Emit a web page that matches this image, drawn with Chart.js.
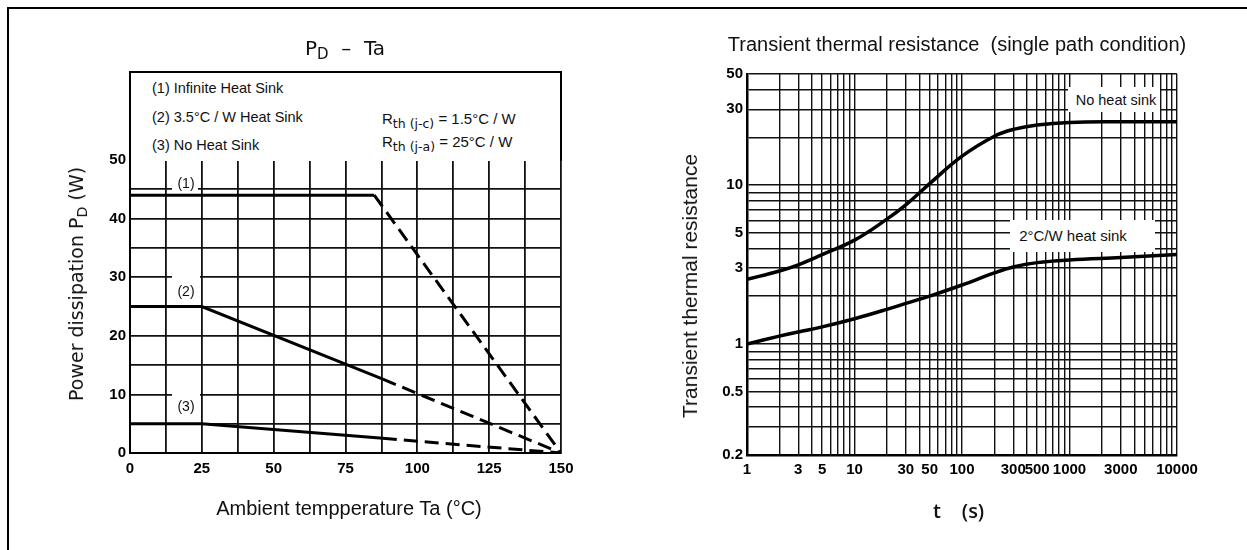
<!DOCTYPE html>
<html>
<head>
<meta charset="utf-8">
<script src="https://cdn.jsdelivr.net/npm/chart.js@4.4.0/dist/chart.umd.min.js"></script>
<style>
  html, body { margin: 0; padding: 0; background: #fff; }
  body { width: 1247px; height: 550px; position: relative; overflow: hidden;
         font-family: "Liberation Sans", Arial, sans-serif; color: #111; }
  .abs { position: absolute; }
  .c { transform: translate(-50%, -50%); white-space: nowrap; }
  .rot { transform: translate(-50%, -50%) rotate(-90deg); white-space: nowrap; }
  #frame { left: 7px; top: 7px; width: 1240px; height: 543px;
           border-left: 2px solid #000; border-top: 2px solid #000; box-sizing: border-box; }
  #leftWrap { left: 0; top: 0; width: 620px; height: 550px; }
  #rightWrap { left: 620px; top: 0; width: 627px; height: 550px; }
  #legendBox { left: 129px; top: 71px; width: 433px; height: 90px; box-sizing: border-box;
               border: 2px solid #000; border-bottom: none; background: #fff; }
  .leg { font-size: 14.5px; line-height: 18px; white-space: nowrap; }
  .rth { font-size: 15px; line-height: 18px; white-space: nowrap; }
  .rth .sub { font-family: "DejaVu Sans", sans-serif; font-size: 12.5px; position: relative; top: 4px; }
  .mask { background: #fff; }
  .curveTag { font-size: 14px; }
  .sub2 { font-size: 0.75em; position: relative; top: 0.25em; }
</style>
</head>
<body>
<div id="frame" class="abs"></div>

<div id="leftWrap" class="abs"><canvas id="pdChart"></canvas></div>
<div id="rightWrap" class="abs"><canvas id="rthChart"></canvas></div>

<!-- left chart texts -->
<div class="abs c" style="left:345px; top:48px; font-family:'DejaVu Sans',sans-serif; font-size:20px;">P<span class="sub2">D</span>&nbsp; –&nbsp; Ta</div>
<div id="legendBox" class="abs">
  <div class="abs leg" style="left:21px; top:6px;">(1) Infinite Heat Sink</div>
  <div class="abs leg" style="left:21px; top:35px;">(2) 3.5°C / W Heat Sink</div>
  <div class="abs leg" style="left:21px; top:63px;">(3) No Heat Sink</div>
  <div class="abs rth" style="left:251px; top:37px;">R<span class="sub">th (j-c)</span> = 1.5°C / W</div>
  <div class="abs rth" style="left:251px; top:60px;">R<span class="sub">th (j-a)</span> = 25°C / W</div>
</div>
<div class="abs mask" style="left:172px; top:175px; width:26px; height:17px;"></div>
<div class="abs mask" style="left:172px; top:273px; width:28px; height:27px;"></div>
<div class="abs mask" style="left:172px; top:391px; width:28px; height:24px;"></div>
<div class="abs c curveTag" style="left:186px; top:183px;">(1)</div>
<div class="abs c curveTag" style="left:186px; top:291px;">(2)</div>
<div class="abs c curveTag" style="left:186px; top:406px;">(3)</div>
<div class="abs rot" style="left:76px; top:284px; font-family:'DejaVu Sans',sans-serif; font-size:19px;">Power dissipation P<span class="sub2">D</span> (W)</div>
<div class="abs c" style="left:349px; top:508px; font-size:20px;">Ambient tempperature Ta (°C)</div>

<!-- right chart texts -->
<div class="abs c" style="left:957px; top:44px; font-size:20px;">Transient thermal resistance &nbsp;(single path condition)</div>
<div class="abs rot" style="left:690px; top:286px; font-size:21px;">Transient thermal resistance</div>
<div class="abs c" style="left:937px; top:510px; font-family:'Open Sans',sans-serif; font-weight:600; font-size:20px;">t</div>
<div class="abs c" style="left:973px; top:510px; font-family:'Open Sans',sans-serif; font-weight:600; font-size:20px;">(s)</div>
<div class="abs mask" style="left:1068px; top:87px; width:92px; height:25px;"></div>
<div class="abs c curveTag" style="left:1116px; top:100px; font-size:14.5px;">No heat sink</div>
<div class="abs mask" style="left:1010px; top:220px; width:145px; height:32px;"></div>
<div class="abs c curveTag" style="left:1073px; top:235px; font-size:15px;">2°C/W heat sink</div>

<script>
// ---- PD - Ta data ----
const taGrid = [0, 12.5, 25, 37.5, 50, 62.5, 75, 87.5, 100, 112.5, 125, 137.5, 150];
const taLabels = [0, 25, 50, 75, 100, 125, 150];
const pdGrid = [0, 5, 10, 15, 20, 25, 30, 35, 40, 45, 50];
const pdLabels = [0, 10, 20, 30, 40, 50];

const sink1Ta = [0, 85, 150];
const sink1Pd = [44, 44, 0];
const sink2Ta = [0, 25, 88, 150];
const sink2Pd = [25, 25, 12.6, 0];
const sink3Ta = [0, 25, 88, 150];
const sink3Pd = [5, 5, 2.5, 0];
const dashFromTa = [85, 88, 88];

// ---- transient thermal resistance data ----
const timeS = [1, 2, 3, 5, 10, 20, 30, 50, 100, 200, 300, 500, 1000, 3000, 10000];
const rthNoSink = [2.55, 2.88, 3.15, 3.65, 4.5, 6.1, 7.5, 10.2, 15.2, 20.3, 22.4, 23.9, 24.8, 25, 25];
const rthSink2 = [1.0, 1.12, 1.19, 1.28, 1.44, 1.65, 1.8, 2.0, 2.35, 2.8, 3.05, 3.25, 3.38, 3.5, 3.65];
const tLabels = [1, 3, 5, 10, 30, 50, 100, 300, 500, 1000, 3000, 10000];
const rLabels = [0.2, 0.5, 1, 3, 5, 10, 30, 50];

// log grid: 1..9 in every decade, kept inside the axis range
function logGrid(min, max) {
    const out = [];
    for (let d = Math.pow(10, Math.floor(Math.log10(min))); d <= max; d *= 10) {
        for (let m = 1; m <= 9; m++) {
            const v = Number((d * m).toPrecision(6));
            if (v >= min && v <= max) out.push(v);
        }
    }
    return out;
}
const tGrid = logGrid(1, 10000);
const rGrid = logGrid(0.2, 50);

const tickFont = { family: '"Liberation Sans", Arial, sans-serif', size: 15, weight: 'bold' };

function toPoints(xs, ys) {
    return xs.map((x, i) => ({ x: x, y: ys[i] }));
}

function curve(xs, ys, dashFrom) {
    return {
        data: toPoints(xs, ys),
        borderColor: '#000',
        borderWidth: 3,
        pointRadius: 0,
        showLine: true,
        fill: false,
        segment: {
            borderDash: ctx => ctx.p0.parsed.x >= dashFrom ? [14, 7] : undefined
        }
    };
}

function smooth(xs, ys) {
    return {
        data: toPoints(xs, ys),
        borderColor: '#000',
        borderWidth: 3.5,
        pointRadius: 0,
        showLine: true,
        fill: false,
        tension: 0.4
    };
}

Chart.defaults.animation = false;

new Chart(document.getElementById('pdChart'), {
    type: 'scatter',
    data: {
        datasets: [
            curve(sink1Ta, sink1Pd, dashFromTa[0]),
            curve(sink2Ta, sink2Pd, dashFromTa[1]),
            curve(sink3Ta, sink3Pd, dashFromTa[2])
        ]
    },
    options: {
        responsive: true,
        maintainAspectRatio: false,
        layout: { padding: { left: 60, right: 59, top: 160, bottom: 57 } },
        plugins: { legend: { display: false }, tooltip: { enabled: false } },
        scales: {
            x: {
                type: 'linear', min: 0, max: 150,
                afterBuildTicks: s => { s.ticks = taGrid.map(v => ({ value: v })); },
                afterFit: s => { s.height = 40; s.paddingLeft = 0; s.paddingRight = 0; },
                grid: { color: '#111', lineWidth: 1.8, drawTicks: false },
                border: { color: '#000', width: 2 },
                ticks: {
                    autoSkip: false, maxRotation: 0, padding: 7, color: '#000', font: tickFont,
                    callback: v => taLabels.includes(v) ? String(v) : ''
                }
            },
            y: {
                type: 'linear', min: 0, max: 50,
                afterBuildTicks: s => { s.ticks = pdGrid.map(v => ({ value: v })); },
                afterFit: s => { s.width = 70; s.paddingTop = 0; s.paddingBottom = 0; },
                grid: { color: '#111', lineWidth: 1.8, drawTicks: false },
                border: { color: '#000', width: 2 },
                ticks: {
                    autoSkip: false, padding: 4, color: '#000', font: tickFont,
                    callback: v => pdLabels.includes(v) ? String(v) : ''
                }
            }
        }
    }
});

new Chart(document.getElementById('rthChart'), {
    type: 'scatter',
    data: {
        datasets: [
            smooth(timeS, rthNoSink),
            smooth(timeS, rthSink2)
        ]
    },
    options: {
        responsive: true,
        maintainAspectRatio: false,
        layout: { padding: { left: 57, right: 70, top: 74, bottom: 55 } },
        plugins: { legend: { display: false }, tooltip: { enabled: false } },
        scales: {
            x: {
                type: 'logarithmic', min: 1, max: 10000,
                afterBuildTicks: s => { s.ticks = tGrid.map(v => ({ value: v })); },
                afterFit: s => { s.height = 40; s.paddingLeft = 0; s.paddingRight = 0; },
                grid: { color: '#111', lineWidth: 1.4, drawTicks: false },
                border: { color: '#000', width: 2.5 },
                ticks: {
                    autoSkip: false, maxRotation: 0, padding: 6, color: '#000', font: tickFont,
                    callback: v => tLabels.includes(v) ? String(v) : ''
                }
            },
            y: {
                type: 'logarithmic', min: 0.2, max: 50,
                afterBuildTicks: s => { s.ticks = rGrid.map(v => ({ value: v })); },
                afterFit: s => { s.width = 70; s.paddingTop = 0; s.paddingBottom = 0; },
                grid: { color: '#111', lineWidth: 1.4, drawTicks: false },
                border: { color: '#000', width: 2.5 },
                ticks: {
                    autoSkip: false, padding: 4, color: '#000', font: tickFont,
                    callback: v => rLabels.includes(v) ? String(v) : ''
                }
            }
        }
    }
});
</script>
</body>
</html>
